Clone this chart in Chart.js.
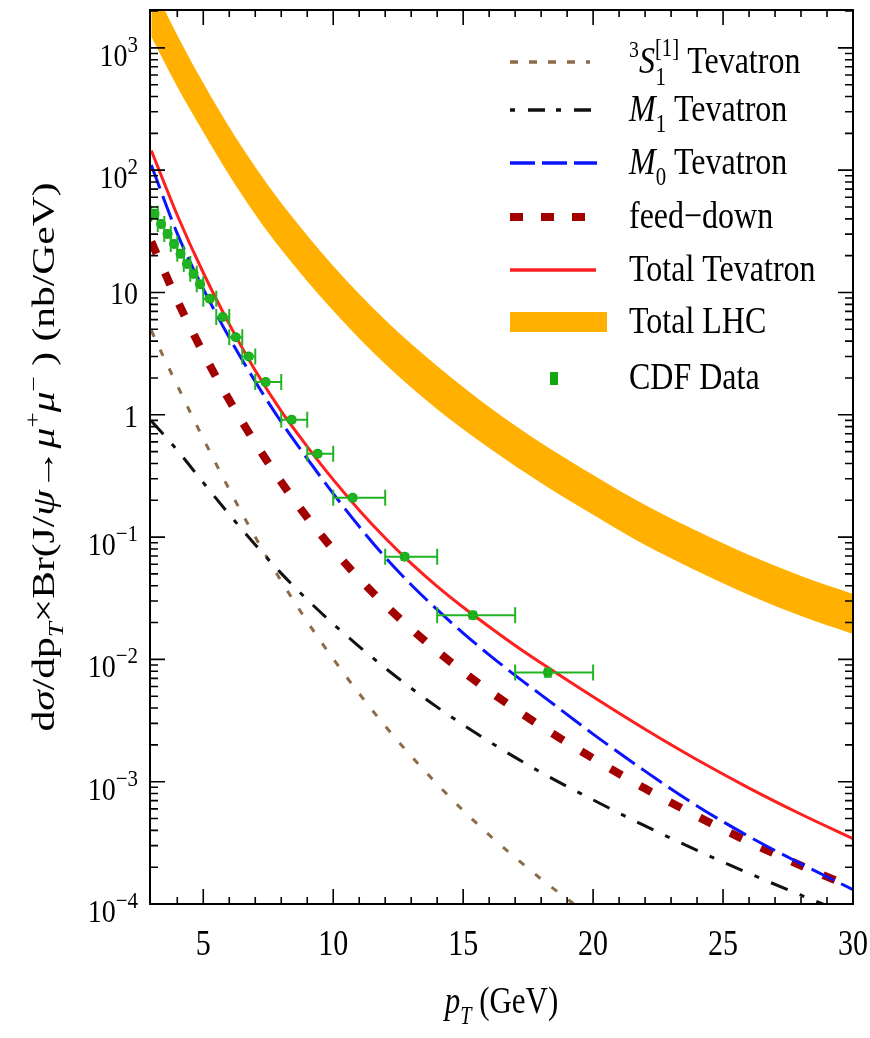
<!DOCTYPE html>
<html><head><meta charset="utf-8">
<script src="https://cdn.jsdelivr.net/npm/chart.js@4.4.1/dist/chart.umd.min.js"></script>
<style>html,body{margin:0;padding:0;background:#fff}#wrap{width:870px;height:1038px}</style>
</head><body><div id="wrap"><canvas id="c" width="870" height="1038"></canvas></div>
<script>
// ---------- data ----------
const pt = [3,4,5,6,7,8,9,10,11,12,13,14,15,16,17,18,20,22,24,26,28,30];
const totalTevatron = [145,42.8,14.5,5.51,2.30,1.07,0.550,0.295,0.166,0.0982,0.0610,0.0396,0.0267,0.0185,0.0130,0.00933,0.00494,0.00268,0.00151,0.000887,0.000542,0.000342];
const m0Tevatron = [110,30.3,10.7,4.28,1.87,0.873,0.438,0.227,0.122,0.0685,0.0408,0.0255,0.0164,0.0109,0.00741,0.00513,0.00245,0.00122,0.000634,0.000356,0.000213,0.000131];
const feedDown = [26.0,8.61,3.20,1.318,0.589,0.282,0.1445,0.0791,0.0458,0.0279,0.01774,0.01167,0.00793,0.00552,0.00393,0.00284,0.00155,0.000879,0.000522,0.000322,0.000206,0.000136];
const m1Tevatron = [0.891,0.513,0.279,0.153,0.0867,0.0505,0.0308,0.0195,0.01274,0.00851,0.00582,0.00407,0.00292,0.00213,0.00158,0.00119,0.000710,0.000435,0.000274,0.000178,0.000118,0.000080];
const s1Pt = [3,3.5,4,4.5,5,6,7,8,9,10,11,12,13,14,15,16,17,18,19,20];
const s1Tevatron = [4.90,2.88,1.74,1.047,0.638,0.245,0.100,0.0437,0.0204,0.0101,0.00525,0.00285,0.00162,0.000955,0.000582,0.000367,0.000240,0.000160,0.000110,0.0000760];
const lhcPt = [3,4,5,6,7,8,10,12,14,16,18,20,22,24,26,28,30];
const lhcUpper = [3400,1270,516,225,106,54,16.5,5.96,2.51,1.16,0.588,0.322,0.183,0.112,0.0714,0.0481,0.0343];
const lhcLower = [1230,480,205,91,43.5,22.5,7.1,2.60,1.11,0.535,0.277,0.152,0.0861,0.0528,0.0336,0.0226,0.0161];
const cdfPt  = [3.125,3.375,3.625,3.875,4.125,4.375,4.625,4.875,5.25,5.75,6.25,6.75,7.4,8.4,9.4,10.75,12.75,15.37,18.26];
const cdfLo  = [3.0,3.25,3.5,3.75,4.0,4.25,4.5,4.75,5.0,5.5,6.0,6.5,7,8,9,10,12,14,17];
const cdfHi  = [3.25,3.5,3.75,4.0,4.25,4.5,4.75,5.0,5.5,6.0,6.5,7.0,8,9,10,12,14,17,20];
const cdfVal = [44,36.3,30.1,24.9,20.7,17.1,14.2,11.7,8.9,6.3,4.3,3.0,1.85,0.91,0.48,0.21,0.069,0.023,0.0078];
const cdfErr = [2.0,1.6,1.3,1.1,0.9,0.75,0.62,0.52,0.4,0.28,0.2,0.14,0.08,0.04,0.022,0.01,0.004,0.0015,0.0006];
const xTickVals = [5,10,15,20,25,30];
const xTickLabels = ['5','10','15','20','25','30'];
const yTickVals = [1e-4,1e-3,1e-2,1e-1,1,10,100,1000];
const yTickLabels = [['10','\u22124'],['10','\u22123'],['10','\u22122'],['10','\u22121'],['1',''],['10',''],['10','2'],['10','3']];
const legendLabels = [
  [{t:'3',s:0.62,dy:-0.42},{t:'S',i:1},{t:'1',s:0.65,dy:0.32,na:1,dx:0.02},{t:'[1]',s:0.65,dy:-0.45},{t:' Tevatron'}],
  [{t:'M',i:1},{t:'1',s:0.65,dy:0.3},{t:' Tevatron'}],
  [{t:'M',i:1},{t:'0',s:0.65,dy:0.3},{t:' Tevatron'}],
  [{t:'feed\u2212down'}],
  [{t:'Total Tevatron'}],
  [{t:'Total LHC'}],
  [{t:'CDF Data'}]
];
const xTitle = [{t:'p',i:1},{t:'T',i:1,s:0.65,dy:0.3},{t:' (GeV)'}];
const yTitle = [{t:'d'},{t:'\u03c3',i:1},{t:'/dp'},{t:'T',i:1,s:0.65,dy:0.3},{t:'\u00d7Br(J/'},{t:'\u03c8',i:1},{t:'\u2192'},{t:'\u03bc',i:1},{t:'+',s:0.65,dy:-0.45},{t:'\u03bc',i:1},{t:'\u2212',s:0.65,dy:-0.45},{t:' ) (nb/GeV)'}];

// ---------- styles ----------
const C_BROWN='#8d6b48', C_BLACK='#111111', C_BLUE='#0a14ff', C_FEED='#a30000', C_RED='#ff1f1f', C_ORANGE='#ffb000', C_GREEN='#10a810', C_GREENBAR='#22b422';
const SERIF='"Liberation Serif","Times New Roman","DejaVu Serif",serif';

function xy(xs, ys){ return xs.map((x,i)=>({x:x,y:ys[i]})); }
function fnt(s,base){ return (s.i?'italic ':'')+(base*(s.s||1)).toFixed(1)+'px '+SERIF; }
function richWidth(ctx,segs,base){ let w=0; for(const s of segs){ ctx.font=fnt(s,base); if(!s.na) w+=ctx.measureText(s.t).width+(s.dx||0)*base; } return w; }
function drawRich(ctx,segs,x,y,base,o){
  o=o||{}; const align=o.align||'left', sx=o.sx||1, sy=o.sy||1, rot=o.rot||0;
  ctx.save(); ctx.translate(x,y); if(rot) ctx.rotate(rot); ctx.scale(sx,sy);
  ctx.fillStyle=o.color||'#000'; ctx.textBaseline='alphabetic'; ctx.textAlign='left';
  const w=richWidth(ctx,segs,base);
  let cx = align==='center'? -w/2 : (align==='right'? -w : 0);
  for(const s of segs){ ctx.font=fnt(s,base); ctx.fillText(s.t,cx+(s.dx||0)*base,(s.dy||0)*base); if(!s.na) cx+=ctx.measureText(s.t).width+(s.dx||0)*base; }
  ctx.restore();
}

const decor = {
  id:'decor',
  afterDatasetsDraw(chart){
    const ctx=chart.ctx, xs=chart.scales.x, ys=chart.scales.y, a=chart.chartArea;
    ctx.save();
    ctx.beginPath(); ctx.rect(a.left,a.top,a.right-a.left,a.bottom-a.top); ctx.clip();
    ctx.strokeStyle=C_GREENBAR; ctx.lineWidth=2;
    for(let i=0;i<cdfPt.length;i++){
      const py=ys.getPixelForValue(cdfVal[i]);
      const xl=xs.getPixelForValue(cdfLo[i]), xh=xs.getPixelForValue(cdfHi[i]), px=xs.getPixelForValue(cdfPt[i]);
      const yt=ys.getPixelForValue(cdfVal[i]+cdfErr[i]), yb=ys.getPixelForValue(cdfVal[i]-cdfErr[i]);
      ctx.beginPath();
      ctx.moveTo(xl,py); ctx.lineTo(xh,py);
      ctx.moveTo(xl,py-8); ctx.lineTo(xl,py+8);
      ctx.moveTo(xh,py-8); ctx.lineTo(xh,py+8);
      ctx.moveTo(px,yt); ctx.lineTo(px,yb);
      ctx.moveTo(px-4,yt); ctx.lineTo(px+4,yt);
      ctx.moveTo(px-4,yb); ctx.lineTo(px+4,yb);
      ctx.stroke();
    }
    ctx.restore();
  },
  afterDraw(chart){
    const ctx=chart.ctx, xs=chart.scales.x, ys=chart.scales.y, a=chart.chartArea;
    ctx.save();
    ctx.strokeStyle='#000'; ctx.lineWidth=2;
    ctx.strokeRect(a.left,a.top,a.right-a.left,a.bottom-a.top);
    ctx.lineWidth=1.6; ctx.beginPath();
    for(let v=4; v<=29; v++){
      const px=xs.getPixelForValue(v), len=(v%5===0)?15:7;
      ctx.moveTo(px,a.bottom); ctx.lineTo(px,a.bottom-len);
      ctx.moveTo(px,a.top); ctx.lineTo(px,a.top+len);
    }
    for(let e=-4;e<=3;e++){
      for(let m=1;m<=9;m++){
        const v=m*Math.pow(10,e); if(v>ys.max) continue;
        const py=ys.getPixelForValue(v), len=(m===1)?15:8;
        ctx.moveTo(a.left,py); ctx.lineTo(a.left+len,py);
        ctx.moveTo(a.right,py); ctx.lineTo(a.right-len,py);
      }
    }
    ctx.stroke();
    xTickVals.forEach((v,i)=>{
      drawRich(ctx,[{t:xTickLabels[i]}],xs.getPixelForValue(v),955,30,{align:'center',sy:1.2});
    });
    yTickVals.forEach((v,i)=>{
      const py=ys.getPixelForValue(v), lab=yTickLabels[i];
      if(lab[1]) drawRich(ctx,[{t:lab[0]},{t:lab[1],s:0.75,dy:-0.45}],138,py+18,28,{align:'right',sy:1.12});
      else drawRich(ctx,[{t:lab[0]}],138,py+12,28,{align:'right',sy:1.12});
    });
    drawRich(ctx,xTitle,(a.left+a.right)/2,1013,31,{align:'center',sy:1.2});
    drawRich(ctx,yTitle,54,(a.top+a.bottom)/2,31,{align:'center',sx:1.34,rot:-Math.PI/2});
    const rows=[62,110,163,217,270,322,378];
    const x0=510;
    function sample(y,color,w,dash,x1){ ctx.save(); ctx.strokeStyle=color; ctx.lineWidth=w; ctx.setLineDash(dash); ctx.lineCap='butt'; ctx.beginPath(); ctx.moveTo(x0,y); ctx.lineTo(x1,y); ctx.stroke(); ctx.restore(); }
    sample(rows[0],C_BROWN,3.5,[8,11],590);
    sample(rows[1],C_BLACK,3.5,[5,13,17,11],591);
    sample(rows[2],C_BLUE,3.5,[25,7],597);
    sample(rows[3],C_FEED,8,[13,18],586);
    sample(rows[4],C_RED,3.5,[],596);
    ctx.fillStyle=C_ORANGE; ctx.fillRect(x0,rows[5]-10,97,20);
    ctx.fillStyle=C_GREEN; ctx.fillRect(550,rows[6]-6,8,13);
    legendLabels.forEach((segs,i)=>{ drawRich(ctx,segs,629,rows[i]+11,32,{sy:1.18}); });
    ctx.restore();
  }
};

const lineDs=(label,xs,ys,color,w,dash,order)=>({label:label,data:xy(xs,ys),borderColor:color,borderWidth:w,borderDash:dash,pointRadius:0,fill:false,cubicInterpolationMode:'monotone',order:order,borderCapStyle:'butt'});

new Chart(document.getElementById('c'),{
  type:'line',
  data:{datasets:[
    {type:'scatter',label:'CDF Data',data:xy(cdfPt,cdfVal),pointRadius:5,pointBackgroundColor:C_GREEN,pointBorderWidth:0,showLine:false,order:0},
    lineDs('Total Tevatron',pt,totalTevatron,C_RED,3,[],1),
    lineDs('M0 Tevatron',pt,m0Tevatron,C_BLUE,3,[25,8],2),
    lineDs('feed-down',pt,feedDown,C_FEED,8,[13,21],3),
    lineDs('M1 Tevatron',pt,m1Tevatron,C_BLACK,3,[18,13,5,13],4),
    lineDs('3S1 Tevatron',s1Pt,s1Tevatron,C_BROWN,3,[7,14],5),
    {label:'Total LHC',data:xy(lhcPt,lhcUpper),borderWidth:0,borderColor:C_ORANGE,backgroundColor:C_ORANGE,pointRadius:0,fill:'+1',cubicInterpolationMode:'monotone',order:6},
    {label:'LHC low',data:xy(lhcPt,lhcLower),borderWidth:0,borderColor:C_ORANGE,pointRadius:0,fill:false,cubicInterpolationMode:'monotone',order:7}
  ]},
  options:{
    responsive:false, animation:false, devicePixelRatio:1, events:[],
    layout:{padding:{left:150,right:17,top:10,bottom:134}},
    scales:{
      x:{type:'linear',min:2.95,max:30,display:false},
      y:{type:'logarithmic',min:1e-4,max:2040,display:false}
    },
    plugins:{legend:{display:false},tooltip:{enabled:false}}
  },
  plugins:[decor]
});
</script></body></html>
